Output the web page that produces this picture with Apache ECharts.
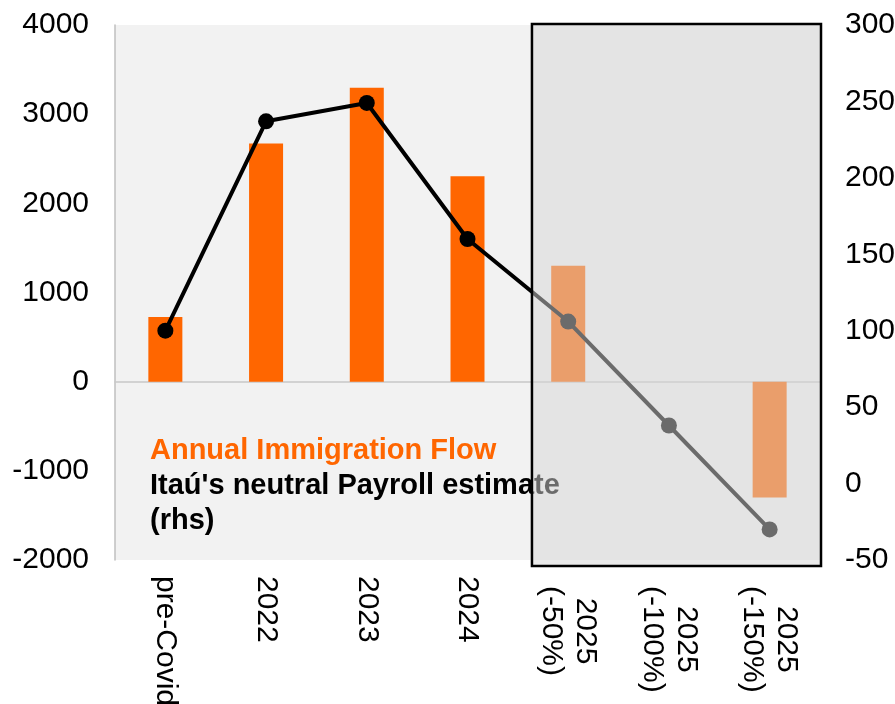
<!DOCTYPE html>
<html>
<head>
<meta charset="utf-8">
<script src="https://cdn.jsdelivr.net/npm/echarts@6/dist/echarts.min.js"></script>
<style>
  html, body { margin: 0; padding: 0; background: #ffffff; }
  #chart { width: 895px; height: 704px; }
</style>
</head>
<body>
<div id="chart"></div>
<script>
// Categories along the x axis (two-line labels for the 2025 scenarios)
const categories = ['pre-Covid', '2022', '2023', '2024', '2025\n(-50%)', '2025\n(-100%)', '2025\n(-150%)'];
// Annual immigration flow (thousands, left axis)
const immigration = [725, 2670, 3295, 2305, 1300, 0, -1300];
// Itaú's neutral payroll estimate (thousands, right axis)
const payroll = [100, 237, 249, 160, 106, 38, -30];
// Legend lines written inside the plot
const legendLines = ['Annual Immigration Flow', "Itaú's neutral Payroll estimate", '(rhs)'];

const FONT = "'Liberation Sans', Arial, sans-serif";
const ORANGE = '#ff6600';
const LABEL_SIZE = 30;

const chart = echarts.init(document.getElementById('chart'), null, { renderer: 'canvas' });

const grid = { left: 115, right: 75, top: 25, bottom: 144 };

const plainNumber = function (v) { return String(v); };

const option = {
  animation: false,
  backgroundColor: '#ffffff',
  grid: {
    left: grid.left, right: grid.right, top: grid.top, bottom: grid.bottom,
    containLabel: false,
    outerBoundsMode: 'none',
    show: true, backgroundColor: '#f2f2f2', borderWidth: 0
  },
  xAxis: {
    type: 'category',
    data: categories,
    boundaryGap: true,
    axisLine: { show: true, onZero: true, lineStyle: { color: '#c8c8c8', width: 1.5 } },
    axisTick: { show: false },
    splitLine: { show: false },
    axisLabel: {
      rotate: -90,
      margin: 16,
      interval: 0,
      color: '#000',
      fontFamily: FONT,
      fontSize: LABEL_SIZE,
      lineHeight: 34,
      formatter: function (v) {
        const lines = v.split('\n');
        // two-line scenario labels: centred lines, pushed a little further from the axis
        const tag = lines.length > 1 ? 'd' : 'c';
        return lines.map(function (s) { return '{' + tag + '|' + s + '}'; }).join('\n');
      },
      rich: {
        c: { align: 'center', fontFamily: FONT, fontSize: LABEL_SIZE, color: '#000', lineHeight: 34 },
        d: { align: 'center', fontFamily: FONT, fontSize: LABEL_SIZE, color: '#000', lineHeight: 34, padding: [0, 0, 0, 10] }
      }
    }
  },
  yAxis: [
    {
      type: 'value', min: -2000, max: 4000, interval: 1000,
      position: 'left',
      axisLine: { show: true, lineStyle: { color: '#bfbfbf', width: 1.5 } },
      axisTick: { show: false },
      splitLine: { show: false },
      axisLabel: { color: '#000', fontFamily: FONT, fontSize: LABEL_SIZE, margin: 26, formatter: plainNumber }
    },
    {
      type: 'value', min: -50, max: 300, interval: 50,
      position: 'right',
      axisLine: { show: false },
      axisTick: { show: false },
      splitLine: { show: false },
      axisLabel: { color: '#000', fontFamily: FONT, fontSize: LABEL_SIZE, margin: 25, formatter: plainNumber }
    }
  ],
  series: [
    {
      name: 'Annual Immigration Flow',
      type: 'bar',
      data: immigration,
      yAxisIndex: 0,
      barWidth: 34,
      itemStyle: { color: ORANGE },
      z: 2
    },
    {
      name: "Itaú's neutral Payroll estimate (rhs)",
      type: 'line',
      data: payroll,
      yAxisIndex: 1,
      symbol: 'circle',
      symbolSize: 16,
      lineStyle: { color: '#000', width: 4 },
      itemStyle: { color: '#000' },
      z: 3
    }
  ]
};

chart.setOption(option);

// Shaded box over the 2025 scenarios, placed from the category scale
const c4 = chart.convertToPixel({ xAxisIndex: 0 }, categories[4]);
const c5 = chart.convertToPixel({ xAxisIndex: 0 }, categories[5]);
const band = c5 - c4;
const boxLeft = c4 - band * 0.36;
const boxRight = 895 - grid.right + 1;
const boxTop = grid.top - 1;
const boxBottom = 704 - grid.bottom + 6;

const legendColors = [ORANGE, '#000', '#000'];
const legendY = [451, 486, 521];

chart.setOption({
  graphic: legendLines.map(function (t, i) {
    return {
      type: 'text', z: 5,
      style: {
        text: t, x: 150, y: legendY[i],
        font: 'bold 29px ' + FONT,
        fill: legendColors[i],
        align: 'left', verticalAlign: 'middle'
      }
    };
  }).concat([{
    type: 'rect', z: 100,
    shape: { x: boxLeft, y: boxTop, width: boxRight - boxLeft, height: boxBottom - boxTop },
    style: { fill: 'rgba(214,214,214,0.5)', stroke: '#000', lineWidth: 2.5 }
  }])
});
</script>
</body>
</html>
